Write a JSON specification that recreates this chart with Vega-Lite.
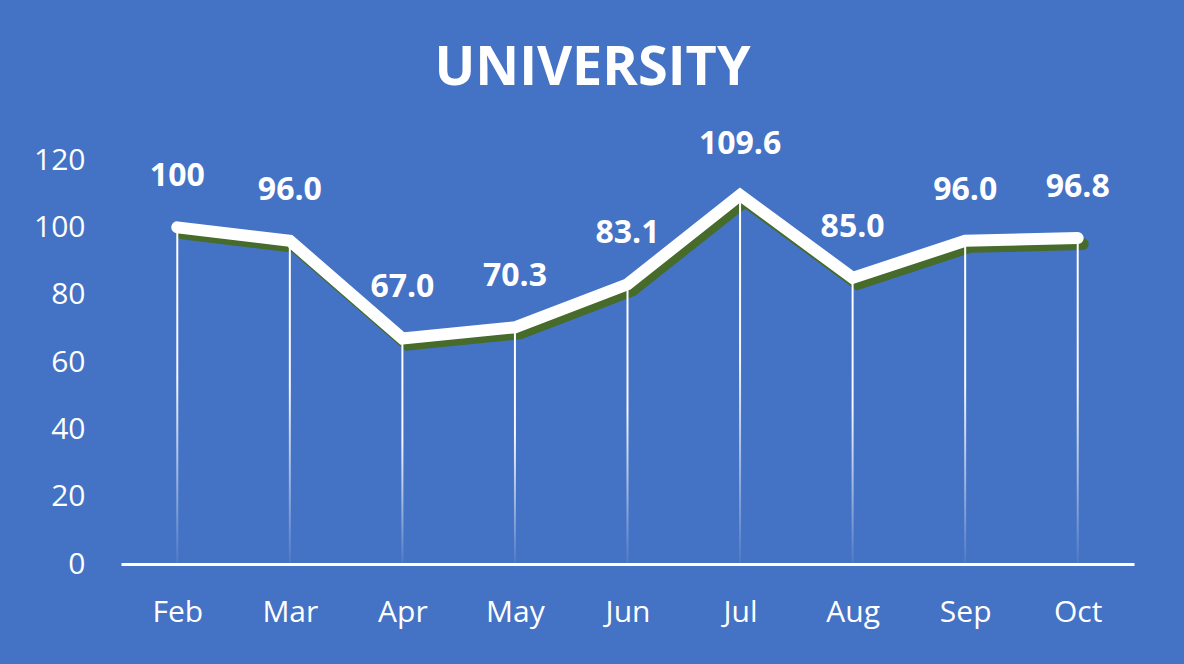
{
  "$schema": "https://vega.github.io/schema/vega-lite/v6.json",
  "autosize": "none",
  "width": 1013,
  "height": 404,
  "padding": {"left": 121, "top": 160, "right": 50, "bottom": 100},
  "background": "#4472C4",
  "config": {"view": {"stroke": null}, "font": "Open Sans"},
  "title": {
    "text": "UNIVERSITY",
    "font": "Open Sans",
    "fontSize": 54,
    "fontWeight": "bold",
    "color": "white",
    "anchor": "middle",
    "frame": "group",
    "dx": -35,
    "dy": 82,
    "offset": 60,
    "baseline": "bottom"
  },
  "data": {
    "values": [
      {"month": "Feb", "value": 100, "label": "100"},
      {"month": "Mar", "value": 96.0, "label": "96.0"},
      {"month": "Apr", "value": 67.0, "label": "67.0"},
      {"month": "May", "value": 70.3, "label": "70.3"},
      {"month": "Jun", "value": 83.1, "label": "83.1"},
      {"month": "Jul", "value": 109.6, "label": "109.6"},
      {"month": "Aug", "value": 85.0, "label": "85.0"},
      {"month": "Sep", "value": 96.0, "label": "96.0"},
      {"month": "Oct", "value": 96.8, "label": "96.8"}
    ]
  },
  "encoding": {
    "x": {
      "field": "month",
      "type": "ordinal",
      "sort": null,
      "scale": {"type": "point", "padding": 0.5},
      "axis": {
        "title": null,
        "domainColor": "white",
        "domainWidth": 3,
        "ticks": false,
        "labelColor": "white",
        "labelFontSize": 30,
        "labelFont": "Open Sans",
        "labelPadding": 33,
        "labelAngle": 0
      }
    },
    "y": {
      "field": "value",
      "type": "quantitative",
      "scale": {"domain": [0, 120]},
      "axis": {
        "title": null,
        "domain": false,
        "ticks": false,
        "grid": false,
        "values": [0, 20, 40, 60, 80, 100, 120],
        "labelColor": "white",
        "labelFontSize": 30,
        "labelFont": "Open Sans",
        "labelPadding": 36
      }
    }
  },
  "layer": [
    {
      "mark": {
        "type": "line",
        "color": "#466B2A",
        "strokeWidth": 12,
        "strokeCap": "round",
        "xOffset": 5,
        "yOffset": 6
      }
    },
    {
      "mark": {
        "type": "bar",
        "width": 2,
        "fill": {
          "gradient": "linear",
          "x1": 0, "y1": 0, "x2": 0, "y2": 1,
          "stops": [
            {"offset": 0, "color": "rgba(255,255,255,1)"},
            {"offset": 0.45, "color": "rgba(255,255,255,0.95)"},
            {"offset": 1, "color": "rgba(255,255,255,0.05)"}
          ]
        }
      },
      "encoding": {"y2": {"datum": 0}}
    },
    {
      "mark": {
        "type": "line",
        "color": "white",
        "strokeWidth": 12,
        "strokeCap": "round"
      }
    },
    {
      "mark": {
        "type": "text",
        "color": "white",
        "fontSize": 32,
        "fontWeight": "bold",
        "font": "Open Sans",
        "baseline": "middle",
        "dy": -51
      },
      "encoding": {"text": {"field": "label"}}
    }
  ]
}
